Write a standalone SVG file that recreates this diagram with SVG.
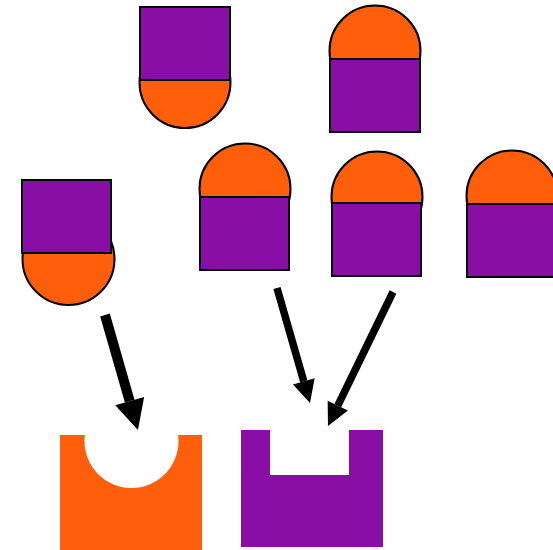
<svg xmlns="http://www.w3.org/2000/svg" width="553" height="550" viewBox="0 0 553 550">
<style>
.o{fill:#ff5f0a;stroke:#000;stroke-width:2}
.p{fill:#880ea6;stroke:#000;stroke-width:2}
.a{stroke:#000;fill:none;marker-end:url(#h)}
</style>
<defs>
<marker id="h" markerUnits="strokeWidth" markerWidth="3" markerHeight="3" viewBox="0 0 10 10" refX="0" refY="5" orient="auto" overflow="visible">
<path d="M0,0 L10,5 L0,10 z" fill="#000"/>
</marker>
</defs>
<rect width="553" height="550" fill="#fff"/>
<g id="node1"><circle class="o" cx="185" cy="82.5" r="45.5"/><rect class="p" x="140" y="7" width="90" height="73"/></g>
<g id="node2"><circle class="o" cx="375" cy="51" r="45.5"/><rect class="p" x="330" y="59" width="90" height="73"/></g>
<g id="node3"><circle class="o" cx="68.5" cy="259" r="46"/><rect class="p" x="22" y="180" width="89" height="73"/></g>
<g id="node4"><circle class="o" cx="245" cy="189" r="45.5"/><rect class="p" x="200" y="197" width="89" height="73"/></g>
<g id="node5"><circle class="o" cx="377" cy="197" r="45.5"/><rect class="p" x="332" y="203" width="89" height="73"/></g>
<g id="node6"><circle class="o" cx="512" cy="196" r="45.5"/><rect class="p" x="467" y="204" width="90" height="73"/></g>
<g id="node7"><path d="M60,435 H202 V550 H60 Z" fill="#ff5f0a"/><circle cx="131.5" cy="441" r="47" fill="#fff"/></g>
<g id="node8"><path d="M241,430 H270 V475 H349 V430 H383 V547 H241 Z" fill="#880ea6"/></g>
<g id="connectors">
<line class="a" x1="105" y1="315" x2="129.7" y2="401.2" stroke-width="10"/>
<line class="a" x1="277" y1="288" x2="303.8" y2="381.4" stroke-width="7.5"/>
<line class="a" x1="393" y1="292" x2="337.8" y2="405.7" stroke-width="7.5"/>
</g>
</svg>
